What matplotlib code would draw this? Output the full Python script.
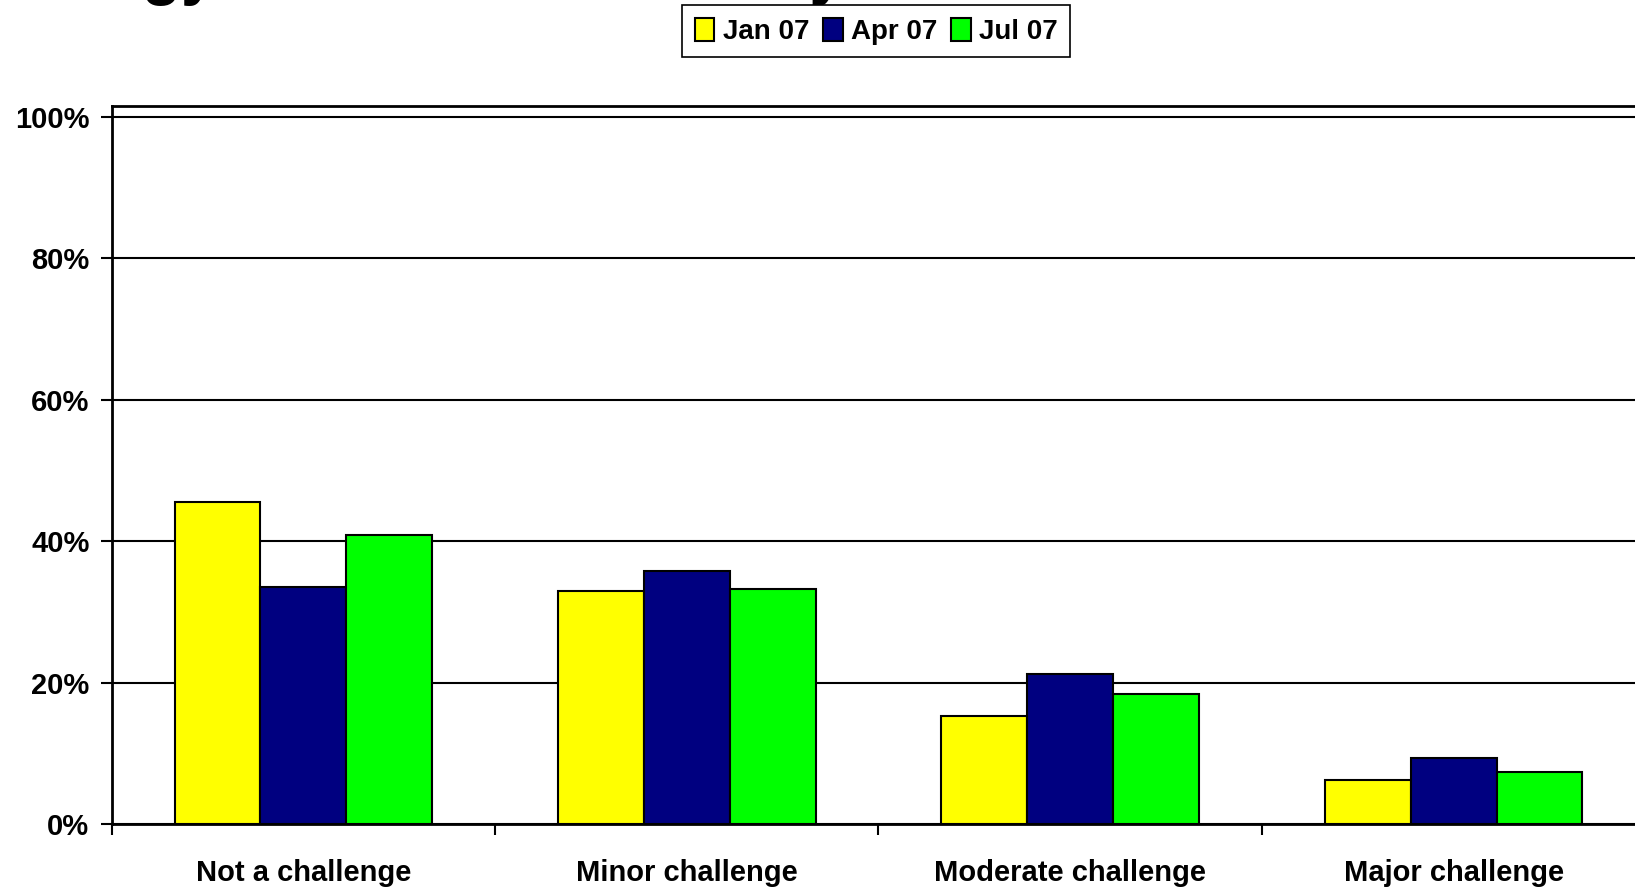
import matplotlib.pyplot as plt
import numpy as np
from matplotlib.ticker import PercentFormatter

plt.rcParams['font.family'] = ['Liberation Sans', 'DejaVu Sans']
plt.rcParams['font.weight'] = 'bold'

# Données de l'enquête (part des répondants)
categories = ['Not a challenge', 'Minor challenge', 'Moderate challenge', 'Major challenge']
series_labels = ['Jan 07', 'Apr 07', 'Jul 07']
jan_07 = [45.6, 33.0, 15.3, 6.3]
apr_07 = [33.6, 35.8, 21.2, 9.4]
jul_07 = [40.9, 33.3, 18.4, 7.4]
couleurs = ['#FFFF00', '#000080', '#00FF00']

fig = plt.figure(figsize=(16.35, 8.89), dpi=100)
ax = fig.add_axes([0.0683, 0.0726, 0.938, 0.808])

# Titre coupé en haut de la figure
fig.text(0.0, 1 + 7 / 889, 'Energy Use in the Economy', fontsize=46, fontweight='bold',
         ha='left', va='baseline')

x = np.arange(len(categories))
largeur = 0.224
for i, (valeurs, label) in enumerate(zip([jan_07, apr_07, jul_07], series_labels)):
    ax.bar(x + (i - 1) * largeur, np.array(valeurs) / 100, largeur, color=couleurs[i],
           edgecolor='black', linewidth=1.5, label=label, zorder=3)

ax.set_xlim(-0.5, 3.5)
ax.set_ylim(0, 1.015)
ax.set_yticks(np.arange(0, 1.01, 0.2))
ax.yaxis.set_major_formatter(PercentFormatter(1.0, decimals=0))
ax.yaxis.grid(True, color='black', linewidth=1.5, zorder=0)

ax.set_xticks(x)
ax.set_xticklabels(categories)
ax.set_xticks(np.arange(-0.5, 4, 1), minor=True)
ax.tick_params(axis='x', which='major', length=0, pad=25, labelsize=21)
ax.tick_params(axis='x', which='minor', length=8, width=1.5, direction='out')
ax.tick_params(axis='y', length=8, width=1.5, direction='out', pad=8, labelsize=21)

for cote in ['left', 'bottom', 'top']:
    ax.spines[cote].set_linewidth(2)
ax.spines['right'].set_visible(False)

leg = fig.legend(loc='center', bbox_to_anchor=(0.536, 0.965), ncol=3, fontsize=20,
                 handlelength=0.7, handleheight=0.9, handletextpad=0.3, columnspacing=0.5,
                 fancybox=False, edgecolor='black', framealpha=1, borderpad=0.45)
leg.get_frame().set_linewidth(1.2)

fig.savefig('out.png', dpi=100)
